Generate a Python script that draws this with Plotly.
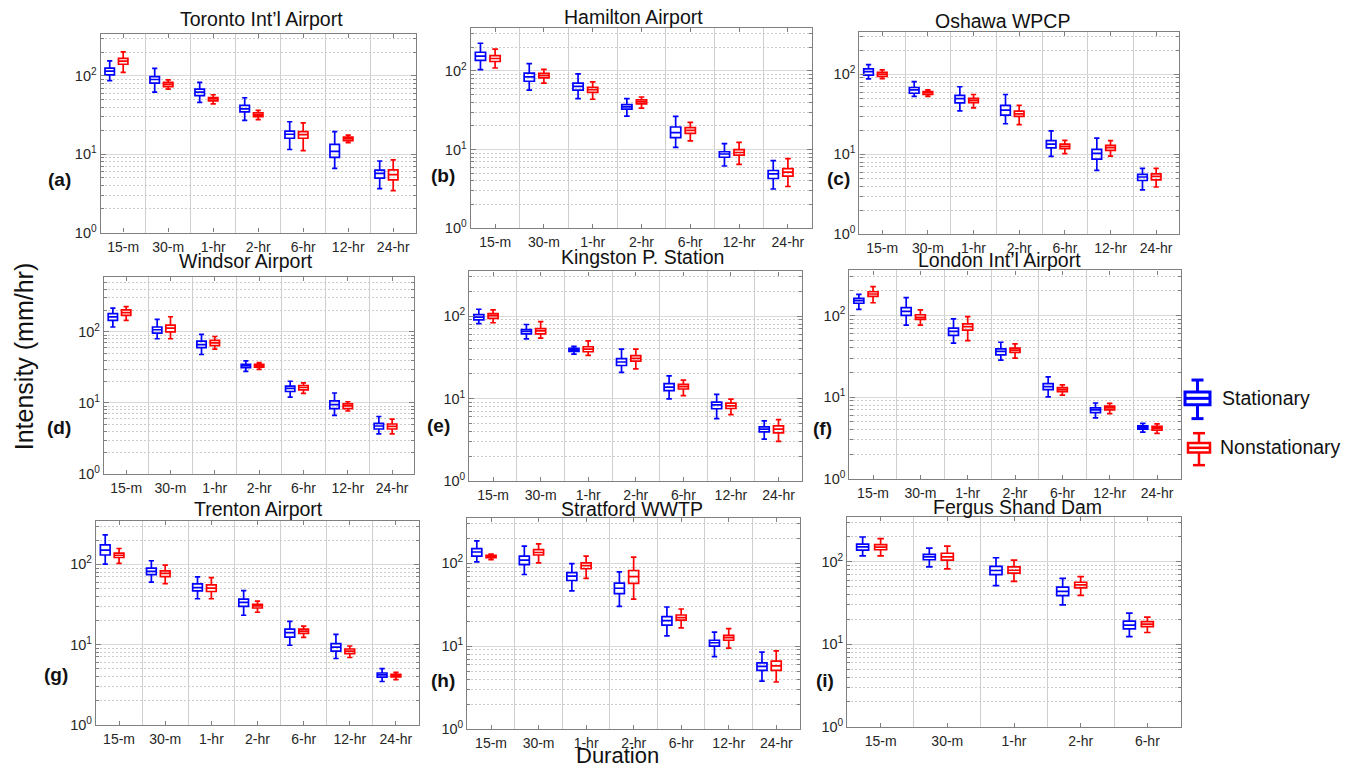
import plotly.graph_objects as go

# ---------------- data ----------------
DURATIONS = ["15-m", "30-m", "1-hr", "2-hr", "6-hr", "12-hr", "24-hr"]
STATION_NAMES = ["Toronto Int\u2019l Airport", "Hamilton Airport", "Oshawa WPCP",
                 "Windsor Airport", "Kingston P. Station", "London Int\u2019l Airport",
                 "Trenton Airport", "Stratford WWTP", "Fergus Shand Dam"]
PANEL_LABELS = ["(a)", "(b)", "(c)", "(d)", "(e)", "(f)", "(g)", "(h)", "(i)"]
SERIES_NAMES = ["Stationary", "Nonstationary"]
Y_TICK_VALUES = [1, 10, 100]
Y_TICK_TEXT = ["10<sup>0</sup>", "10<sup>1</sup>", "10<sup>2</sup>"]

# each tuple: (lower whisker, Q1, median, Q3, upper whisker) in mm/hr, one per duration
TORONTO_STAT = [(87, 103, 115, 126, 156), (62, 81, 90, 98, 125), (46, 56, 62, 68, 83),
                (27, 34.7, 38, 42, 52.7), (11.5, 16, 18, 19.7, 26), (6.6, 9.1, 10.9, 13.4, 19.4),
                (3.64, 4.97, 5.7, 6.27, 8.2)]
TORONTO_NONSTAT = [(111, 141, 155, 168, 203), (68, 73, 78, 83, 89), (44, 48, 51, 53, 57.5),
                   (27.7, 30.3, 31.8, 33.7, 36.4), (11.1, 16, 17.8, 19.5, 25.2),
                   (14.1, 14.9, 15.8, 16.6, 17.5), (3.43, 4.7, 5.5, 6.3, 8.5)]

HAMILTON_STAT = [(104, 136, 154, 173, 225), (57, 74, 84, 94, 124), (44.5, 57, 63.6, 70, 92),
                 (26.7, 32.7, 34.9, 37.4, 44.5), (10.7, 14.2, 16.5, 19.4, 26.4),
                 (6.2, 8.0, 8.8, 9.4, 11.9), (3.16, 4.3, 4.92, 5.43, 7.25)]
HAMILTON_NONSTAT = [(109, 132, 144, 157, 189), (70, 81.7, 87.5, 93, 105), (43.7, 53.5, 57.7, 61.8, 72.7),
                    (33.7, 38.1, 40.4, 42.8, 46.7), (12.9, 16.1, 17.6, 19, 22.2),
                    (6.5, 8.5, 9.2, 10, 12.4), (3.4, 4.6, 5.17, 5.75, 7.7)]

OSHAWA_STAT = [(88, 98, 108, 117, 132), (53, 58, 64, 68.5, 81), (35, 43.9, 49.7, 54.6, 70),
               (24.1, 30.9, 35.6, 41, 56), (9.4, 12, 13.4, 14.8, 19.6), (6.3, 8.7, 10.3, 11.5, 15.9),
               (3.6, 4.7, 5.2, 5.6, 6.66)]
OSHAWA_NONSTAT = [(88.5, 94, 100, 106, 114), (53, 56, 59, 61, 64), (38, 44.4, 47.3, 50, 56),
                  (23.5, 29.8, 32, 34.6, 41), (10.2, 11.8, 12.6, 13.4, 14.9), (9.5, 11.2, 12.1, 12.9, 14.8),
                  (3.9, 4.8, 5.3, 5.7, 6.66)]

WINDSOR_STAT = [(117, 145, 162, 180, 215), (80, 96, 107, 117, 150), (48, 60, 66, 74, 92),
                (27.8, 31.3, 33.4, 34.8, 39), (12.1, 14.5, 16, 17.2, 20.2), (6.7, 8.3, 9.5, 10.7, 13.8),
                (3.67, 4.3, 4.74, 5.16, 6.45)]
WINDSOR_NONSTAT = [(145, 170, 186, 204, 227), (80, 100, 113, 124, 163), (57, 64, 70, 76, 86),
                   (29.7, 32, 33.4, 34.8, 37), (13.6, 15.3, 16.5, 17.6, 19.1), (7.7, 8.3, 9.1, 9.7, 10.4),
                   (3.67, 4.3, 4.69, 5.06, 5.93)]

KINGSTON_STAT = [(81, 90, 97, 104, 121), (53, 61, 65, 68.5, 79), (34.7, 37.4, 39.2, 40.6, 42.9),
                 (20.8, 25.2, 27.8, 30.5, 39.8), (9.95, 12.5, 13.8, 15.2, 18.9),
                 (5.73, 7.55, 8.4, 9.1, 11.3), (3.24, 3.97, 4.27, 4.56, 5.38)]
KINGSTON_NONSTAT = [(83, 94, 101, 107, 119), (54, 61, 66, 70.5, 85.5), (33.5, 37, 39.8, 42.5, 50),
                    (23, 28.4, 30.8, 33.2, 39.8), (10.9, 13.1, 14, 14.9, 16.8),
                    (6.4, 7.6, 8.2, 8.83, 9.86), (3.04, 3.86, 4.27, 4.69, 5.57)]

LONDON_STAT = [(119, 141, 152, 162, 181), (76, 100, 112, 125, 165), (45.8, 57, 64, 70, 91),
               (28.5, 33, 36.3, 39, 47), (10.1, 12.4, 13.5, 14.7, 17.7), (5.6, 6.5, 7.0, 7.4, 8.5),
               (3.74, 4.07, 4.27, 4.48, 4.8)]
LONDON_NONSTAT = [(143, 171, 183, 195, 225), (76, 89.5, 95, 102, 117), (49.3, 66, 73, 79, 97),
                  (30.1, 35.3, 37.7, 39.8, 44.9), (10.6, 11.7, 12.4, 13.1, 14.2), (6.3, 7.0, 7.4, 7.8, 8.4),
                  (3.61, 3.96, 4.19, 4.39, 4.73)]

TRENTON_STAT = [(101, 131, 151, 175, 234), (60, 74.5, 82, 90, 111), (37.3, 46.8, 51.4, 57.1, 69.7),
                (23.2, 30, 33.6, 36.9, 47.2), (9.8, 12.4, 14.1, 15.6, 19.5), (6.7, 8.3, 9.3, 10.3, 13.4),
                (3.46, 3.92, 4.18, 4.42, 5.0)]
TRENTON_NONSTAT = [(103, 122, 130, 138, 158), (57.6, 70.3, 77.4, 83, 98), (37.3, 45.9, 50.5, 55.5, 68.3),
                   (25.3, 28.6, 30.3, 31.7, 34.9), (12.3, 13.8, 14.7, 15.6, 17), (6.9, 7.7, 8.3, 8.8, 9.6),
                   (3.66, 3.95, 4.1, 4.26, 4.5)]

STRATFORD_STAT = [(104, 122, 137, 150, 186), (73.3, 96.5, 109, 122, 161), (46.4, 62, 70, 77, 99),
                  (30.3, 43.2, 50, 57.8, 79), (13.3, 18, 20.4, 22.8, 29.7), (7.5, 10, 11, 11.8, 14.8),
                  (3.8, 5.1, 5.7, 6.3, 8.5)]
STRATFORD_NONSTAT = [(111, 117, 121, 125, 129), (101, 126, 135, 146, 172), (65.8, 86, 94, 101, 122),
                     (37, 57.3, 68.9, 81.9, 119), (16.6, 20.6, 22.1, 23.8, 28.1), (9.5, 11.8, 12.7, 13.5, 16.3),
                     (3.7, 5.1, 5.8, 6.6, 8.8)]

FERGUS_STAT = [(118, 139, 152, 164, 200), (87, 106, 115, 123, 147), (51.5, 69.8, 78.5, 88, 112),
               (30, 38.8, 43.7, 49.2, 63), (12.4, 15.4, 17.1, 19.1, 23.9)]
FERGUS_NONSTAT = [(118, 140, 151, 162, 191), (82, 105, 115, 127, 155), (58, 73, 79, 87, 105),
                  (39.2, 48.4, 52.5, 56.5, 66), (13.9, 16.4, 17.6, 18.8, 21.4)]

STATION_DATA = [
    (TORONTO_STAT, TORONTO_NONSTAT), (HAMILTON_STAT, HAMILTON_NONSTAT), (OSHAWA_STAT, OSHAWA_NONSTAT),
    (WINDSOR_STAT, WINDSOR_NONSTAT), (KINGSTON_STAT, KINGSTON_NONSTAT), (LONDON_STAT, LONDON_NONSTAT),
    (TRENTON_STAT, TRENTON_NONSTAT), (STRATFORD_STAT, STRATFORD_NONSTAT), (FERGUS_STAT, FERGUS_NONSTAT),
]

# ---------------- layout / style constants ----------------
W, H = 1345, 774
FONT = "Liberation Sans, Arial, Helvetica, sans-serif"
BLUE, RED = "#0000FF", "#FF0000"
AXIS_COL = "#808080"
TICK_COL = "#262626"

# panel plot areas in pixels: left, right, top, bottom, log10 of axis top
PANELS_PX = [
    (100.7, 415.7, 34.0, 235.0, 2.54),
    (470.7, 812.3, 28.3, 230.7, 2.546),
    (859.4, 1179.0, 32.3, 236.7, 2.53),
    (104.0, 414.3, 280.0, 479.0, 2.77),
    (469.3, 802.3, 274.3, 486.3, 2.54),
    (849.4, 1180.7, 273.3, 484.0, 2.55),
    (96.0, 419.0, 526.0, 732.3, 2.547),
    (467.3, 800.0, 523.3, 736.7, 2.548),
    (847.3, 1180.7, 522.7, 734.3, 2.54),
]
TITLE_PX = [(261, 19), (633, 17), (1002, 21), (246, 264), (642, 260), (999, 263),
            (258, 514), (632, 514), (1018, 512)]
LABEL_PX = [(59, 181), (443, 177), (838, 180), (59, 432), (439, 430), (822, 433),
            (56, 682), (443, 688), (825, 688)]

MINOR_Y = [m * 10 ** e for e in range(0, 3) for m in range(2, 10)]


def fx(p):
    return p / W


def fy(p):
    return 1 - p / H


fig = go.Figure()
annotations = []

for k, (name, (stat, nonstat)) in enumerate(zip(STATION_NAMES, STATION_DATA)):
    n = len(stat)
    ax = "" if k == 0 else str(k + 1)
    xref, yref = "x" + ax, "y" + ax
    off = 0.30 if n == 7 else 0.27
    bw = 0.21 if n == 7 else 0.18
    for series, color, shift in ((stat, BLUE, -off), (nonstat, RED, 0.0)):
        fig.add_trace(go.Box(
            x=[i + shift for i in range(n)],
            lowerfence=[s[0] for s in series],
            q1=[s[1] for s in series],
            median=[s[2] for s in series],
            q3=[s[3] for s in series],
            upperfence=[s[4] for s in series],
            width=bw,
            whiskerwidth=0.55,
            boxpoints=False,
            line=dict(color=color, width=1.7),
            fillcolor="rgba(255,255,255,0)",
            showlegend=False,
            hoverinfo="skip",
            xaxis=xref, yaxis=yref,
        ))
    l, r, t, b, ytop = PANELS_PX[k]
    fig.layout["xaxis" + ax] = dict(
        domain=[fx(l), fx(r)], anchor=yref, range=[-0.5, n - 0.5],
        tickmode="array", tickvals=list(range(n)), ticktext=DURATIONS[:n],
        ticks="inside", ticklen=4, tickcolor=AXIS_COL,
        showline=True, linecolor=AXIS_COL, linewidth=1.3, mirror="ticks",
        showgrid=False, zeroline=False, ticklabelstandoff=1,
        tickfont=dict(family=FONT, size=14, color=TICK_COL),
        minor=dict(tickmode="array", tickvals=[i + 0.5 for i in range(n - 1)],
                   showgrid=True, gridcolor="#cfcfcf", gridwidth=1.3, ticks=""),
        fixedrange=True,
    )
    fig.layout["yaxis" + ax] = dict(
        domain=[fy(b), fy(t)], anchor=xref, type="log", range=[0, ytop],
        tickmode="array", tickvals=Y_TICK_VALUES, ticktext=Y_TICK_TEXT,
        ticks="inside", ticklen=5, tickcolor=AXIS_COL,
        showline=True, linecolor=AXIS_COL, linewidth=1.3, mirror="ticks",
        showgrid=True, gridcolor="#d9d9d9", gridwidth=1, zeroline=False,
        tickfont=dict(family=FONT, size=14.5, color=TICK_COL),
        minor=dict(tickmode="array", tickvals=MINOR_Y, ticks="inside", ticklen=3,
                   tickcolor=AXIS_COL, showgrid=True, gridcolor="#cccccc",
                   griddash="2px,2px", gridwidth=1),
        fixedrange=True,
    )
    tx, ty = TITLE_PX[k]
    annotations.append(dict(text=name, x=fx(tx), y=fy(ty), xref="paper", yref="paper",
                            xanchor="center", yanchor="middle", showarrow=False,
                            font=dict(family=FONT, size=19.5, color="#111111")))
    lx, ly = LABEL_PX[k]
    annotations.append(dict(text="<b>" + PANEL_LABELS[k] + "</b>", x=fx(lx), y=fy(ly),
                            xref="paper", yref="paper", xanchor="center", yanchor="middle",
                            showarrow=False, font=dict(family=FONT, size=19, color="#111111")))

# axis titles
annotations.append(dict(text="Intensity (mm/hr)", x=fx(24), y=fy(360), xref="paper", yref="paper",
                        xanchor="center", yanchor="middle", textangle=-90, showarrow=False,
                        font=dict(family=FONT, size=25, color="#111111")))
annotations.append(dict(text="Duration", x=fx(617), y=fy(763), xref="paper", yref="paper",
                        xanchor="center", yanchor="middle", showarrow=False,
                        font=dict(family=FONT, size=22, color="#111111")))

# legend (drawn manually to mimic boxplot glyphs)
shapes = []
LEG = [  # colour, box x0, x1, box top, bottom, cap top, cap bottom, cap half width, line width, text x, text y
    (BLUE, 1185, 1210, 396, 409, 384, 423, 6, 3, 1220, 402, SERIES_NAMES[0]),
    (RED, 1188, 1210, 447.7, 457.3, 437.7, 470, 6, 2.5, 1218, 452, SERIES_NAMES[1]),
]
for col, x0, x1, bt, bb, ct, cb, hw, lw, txx, tyy, label in LEG:
    xc = (x0 + x1) / 2
    ln = dict(color=col, width=lw)
    shapes.append(dict(type="rect", xref="paper", yref="paper", x0=fx(x0), x1=fx(x1),
                       y0=fy(bb), y1=fy(bt), line=ln))
    shapes.append(dict(type="line", xref="paper", yref="paper", x0=fx(x0), x1=fx(x1),
                       y0=fy((bt + bb) / 2), y1=fy((bt + bb) / 2), line=ln))
    shapes.append(dict(type="line", xref="paper", yref="paper", x0=fx(xc), x1=fx(xc),
                       y0=fy(bt), y1=fy(ct), line=ln))
    shapes.append(dict(type="line", xref="paper", yref="paper", x0=fx(xc), x1=fx(xc),
                       y0=fy(bb), y1=fy(cb), line=ln))
    shapes.append(dict(type="line", xref="paper", yref="paper", x0=fx(xc - hw), x1=fx(xc + hw),
                       y0=fy(ct), y1=fy(ct), line=ln))
    shapes.append(dict(type="line", xref="paper", yref="paper", x0=fx(xc - hw), x1=fx(xc + hw),
                       y0=fy(cb), y1=fy(cb), line=ln))
    annotations.append(dict(text=label, x=fx(txx), y=fy(tyy), xref="paper", yref="paper",
                            xanchor="left", yanchor="middle", showarrow=False,
                            font=dict(family=FONT, size=19.5, color="#111111")))

fig.update_layout(
    width=W, height=H,
    margin=dict(l=0, r=0, t=0, b=0),
    paper_bgcolor="white", plot_bgcolor="white",
    boxmode="overlay",
    showlegend=False,
    annotations=annotations,
    shapes=shapes,
    font=dict(family=FONT),
)

fig.write_html("out.html", config={"displayModeBar": False},
               post_script="document.body.style.margin='0';")
